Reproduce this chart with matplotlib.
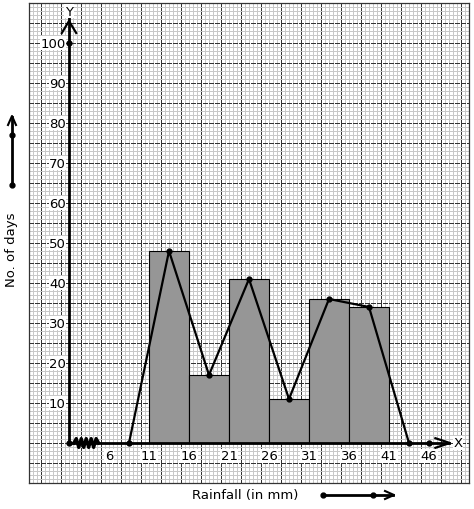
import numpy as np
import matplotlib.pyplot as plt
from matplotlib.ticker import MultipleLocator

# Data
class_edges = [11, 16, 21, 26, 31, 36, 41]
num_days = [48, 17, 41, 11, 36, 34]
x_tick_labels = [6, 11, 16, 21, 26, 31, 36, 41, 46]
y_tick_labels = [10, 20, 30, 40, 50, 60, 70, 80, 90, 100]

# frequency polygon: class marks plus the empty classes at both ends
poly_x = [8.5] + [(a + b) / 2 for a, b in zip(class_edges[:-1], class_edges[1:])] + [43.5]
poly_y = [0] + num_days + [0]

origin_x = 1  # where the broken x-axis meets the y-axis

fig = plt.figure(figsize=(4.74, 5.10), dpi=100)
ax = fig.add_axes([29 / 474, 26 / 510, 440 / 474, 480 / 510])
ax.set_xlim(-4, 51)
ax.set_ylim(-10, 110)

# graph paper
ax.xaxis.set_major_locator(MultipleLocator(2.5))
ax.xaxis.set_minor_locator(MultipleLocator(0.5))
ax.yaxis.set_major_locator(MultipleLocator(5))
ax.yaxis.set_minor_locator(MultipleLocator(1))
ax.grid(which='minor', color='#c8c8c8', linewidth=0.72, antialiased=False)
ax.xaxis.grid(which='major', color='#333333', linewidth=0.72, antialiased=False)
ax.yaxis.grid(which='major', color='#333333', linewidth=0.72, linestyle=(0, (5, 1.5)),
              antialiased=False)
ax.set_axisbelow(True)
ax.tick_params(which='both', length=0, labelbottom=False, labelleft=False)
for s in ax.spines.values():
    s.set_color('#333333')
    s.set_linewidth(0.9)

# histogram
ax.bar(class_edges[:-1], num_days, width=np.diff(class_edges), align='edge',
       color='#969696', edgecolor='black', linewidth=0.8, zorder=3)

# frequency polygon
ax.plot(poly_x, poly_y, color='black', linewidth=1.6, marker='o', markersize=3.5, zorder=5)

# axes with arrows
ax.plot([origin_x, origin_x], [0, 107], color='black', linewidth=2, zorder=6)
ax.plot([origin_x - 0.9, origin_x, origin_x + 0.9], [102.5, 105.5, 102.5],
        color='black', linewidth=1.6, zorder=6)
ax.plot([origin_x, 48.5], [0, 0], color='black', linewidth=2, zorder=6)
ax.plot([46.8, 48.6, 46.8], [1.2, 0, -1.2], color='black', linewidth=1.6, zorder=6)
ax.plot([origin_x, origin_x, 46], [0, 100, 0], 'o', color='black', markersize=3.5, zorder=7)

# kink (break) on the x-axis
zx = np.linspace(1.6, 4.7, 11)
zy = np.array([0, 1.1, -1.1, 1.1, -1.1, 1.1, -1.1, 1.1, -1.1, 1.1, 0])
ax.plot(zx, zy, color='black', linewidth=2.4, zorder=7)

ax.text(origin_x, 108, 'Y', ha='center', va='center', fontsize=9.5,
        bbox=dict(facecolor='white', edgecolor='none', pad=0.5), zorder=8)
ax.text(49.6, 0, 'X', ha='center', va='center', fontsize=9.5,
        bbox=dict(facecolor='white', edgecolor='none', pad=0.5), zorder=8)

for v in y_tick_labels:
    ax.text(origin_x - 0.4, v, str(v), ha='right', va='center', fontsize=9.5,
            bbox=dict(facecolor='white', edgecolor='none', pad=0.3), zorder=8)
for v in x_tick_labels:
    ax.text(v, -3.2, str(v), ha='center', va='center', fontsize=9.5,
            bbox=dict(facecolor='white', edgecolor='none', pad=0.3), zorder=8)

# axis captions with their arrows, outside the graph paper
fig.text(12 / 474, 1 - 250 / 510, 'No. of days', rotation=90, ha='center', va='center', fontsize=9.5)
fig.text(245 / 474, 1 - 496 / 510, 'Rainfall (in mm)', ha='center', va='center', fontsize=9.5)

fx, fy = 12 / 474, 1 - 186 / 510
fig.add_artist(plt.Line2D([fx, fx], [fy, 1 - 118 / 510], color='black', linewidth=2))
fig.add_artist(plt.Line2D([fx - 4 / 474, fx, fx + 4 / 474], [1 - 126 / 510, 1 - 117 / 510, 1 - 126 / 510],
                          color='black', linewidth=1.5))
fig.add_artist(plt.Line2D([fx, fx], [fy, 1 - 136 / 510], linestyle='none', marker='o',
                          markersize=3.5, color='black'))

gx, gy = 323 / 474, 1 - 496 / 510
fig.add_artist(plt.Line2D([gx, 393 / 474], [gy, gy], color='black', linewidth=2))
fig.add_artist(plt.Line2D([385 / 474, 394 / 474, 385 / 474], [gy + 4 / 510, gy, gy - 4 / 510],
                          color='black', linewidth=1.5))
fig.add_artist(plt.Line2D([gx, 373 / 474], [gy, gy], linestyle='none', marker='o',
                          markersize=3.5, color='black'))

fig.savefig('out.png', dpi=100)
